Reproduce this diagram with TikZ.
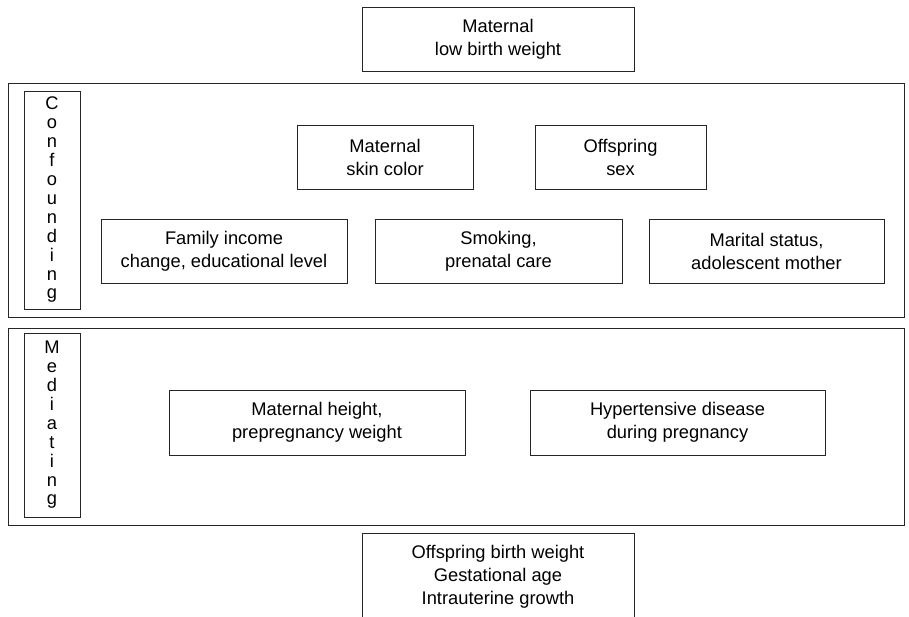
\documentclass[tikz,border=0pt]{standalone}
\usepackage{fontspec}
\setmainfont{Liberation Sans}
\usetikzlibrary{positioning}

\tikzset{
	varbox/.style={draw=black!85, line width=0.9pt, inner sep=0pt, align=center, font=\fontsize{18.3}{23}\selectfont},
	groupbox/.style={draw=black!85, line width=0.9pt, inner sep=0pt},
	tagbox/.style={draw=black!85, line width=0.9pt, inner sep=0pt, align=center, minimum width=56, font=\fontsize{18.3}{18.9}\selectfont}
}

\begin{document}
\begin{tikzpicture}[x=1pt,y=-1pt]
			%\draw[help lines] (0,0) grid (909,617);
			\useasboundingbox (0,0) rectangle (909,617);

			\node[varbox, minimum width=272, minimum height=64] (lbw) at (498,39) {Maternal\\low birth weight};

			% confounding
			\node[groupbox, minimum width=896, minimum height=234] (conf) at (456,200) {};
			\node[tagbox, minimum height=218] (conftag) at (52,200) {C\\o\\n\\f\\o\\u\\n\\d\\i\\n\\g};

			\node[varbox, minimum width=176, minimum height=64] (skin) at (385,157) {Maternal\\skin color};
			\node[varbox, minimum width=171, minimum height=64] (sex) at (620.5,157) {Offspring\\sex};

			\node[varbox, minimum width=246, minimum height=64] (income) at (224,251) {Family income\\change, educational level};
			\node[varbox, minimum width=247, minimum height=64] (smoke) at (498.5,251) {Smoking,\\prenatal care};
			\node[varbox, minimum width=235, minimum height=64] (marital) at (766.5,251) {Marital status,\\adolescent mother};

			% mediating
			\node[groupbox, minimum width=896, minimum height=197] (med) at (456,426.5) {};
			\node[tagbox, minimum height=184] (medtag) at (52,425) {M\\e\\d\\i\\a\\t\\i\\n\\g};

			\node[varbox, minimum width=296, minimum height=65] (height) at (317,422.5) {Maternal height,\\prepregnancy weight};
			\node[varbox, minimum width=295, minimum height=65] (hyper) at (677.5,422.5) {Hypertensive disease\\during pregnancy};

			\node[varbox, minimum width=272, minimum height=88] (outcome) at (498,577) {Offspring birth weight\\Gestational age\\Intrauterine growth};
		\end{tikzpicture}
\end{document}
